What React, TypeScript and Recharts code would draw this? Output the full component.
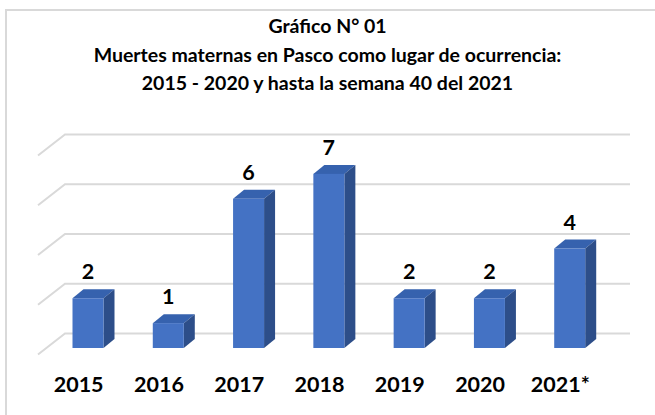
import { BarChart, Bar, XAxis, YAxis, CartesianGrid, LabelList } from "recharts";

const YEARS = ["2015", "2016", "2017", "2018", "2019", "2020", "2021*"];
const DEATHS = [2, 1, 6, 7, 2, 2, 4];
const Y_TICKS = [0, 2, 4, 6, 8];
const TITLE_LINES = [
  "Gráfico N° 01",
  "Muertes maternas en Pasco como lugar de ocurrencia:",
  "2015 - 2020 y hasta la semana 40 del 2021",
];

const data = YEARS.map((year, i) => ({ year, value: DEATHS[i] }));

const FONT = "Lato, 'Open Sans', sans-serif";
// 3D depth of the bars and of the back wall
const DX = 11;
const DY = 9;

function Bar3D(props: any) {
  const { x, y, width, height } = props;
  if (!height || height <= 0) return null;
  const r = x + width;
  const b = y + height;
  return (
    <g>
      <polygon points={`${x},${y} ${x + DX},${y - DY} ${r + DX},${y - DY} ${r},${y}`} fill="#3662ae" />
      <polygon points={`${r},${y} ${r + DX},${y - DY} ${r + DX},${b - DY} ${r},${b}`} fill="#2d4e89" />
      <rect x={x} y={y} width={width} height={height} fill="#4472c4" />
    </g>
  );
}

function WallLine(props: any) {
  const { x1, x2, y1 } = props;
  const by = y1 - 14.5;
  return (
    <polyline
      key={`wall-${y1}`}
      points={`${x1 - 9.5},${by + 21} ${x1 + 17.5},${by} ${x2 + 20.5},${by}`}
      fill="none"
      stroke="#d9d9d9"
      strokeWidth={2}
    />
  );
}

function YearTick({ x, y, payload }: any) {
  // labels sit on the front edge of the floor, a bit left of the bars
  return (
    <text x={x - 9} y={y + 36} textAnchor="middle" fontFamily={FONT} fontWeight={700} fontSize={21.5} fill="#000">
      {payload.value}
    </text>
  );
}

export default function App() {
  return (
    <div style={{ position: "absolute", left: 0, top: 0, width: 655, height: 415, overflow: "hidden", background: "#fff" }}>
      <div style={{ position: "absolute", left: 5, top: 9, width: 700, height: 500, border: "2px solid #d9d9d9", boxSizing: "border-box" }} />
      <div style={{
        position: "absolute", left: 0, top: 12, width: 655, textAlign: "center",
        fontFamily: FONT, fontWeight: 700, fontSize: 19.5, lineHeight: "28.5px", color: "#000",
      }}>
        {TITLE_LINES.map((line) => (
          <div key={line}>{line}</div>
        ))}
      </div>
      <div style={{ position: "absolute", left: 0, top: 0 }}>
        <BarChart width={655} height={415} data={data} barSize={31}
          margin={{ top: 149, right: 45.5, bottom: 37, left: 47.5 }}>
          <CartesianGrid vertical={false} horizontal={WallLine} />
          <XAxis dataKey="year" axisLine={false} tickLine={false} height={30} interval={0} tick={YearTick} />
          <YAxis hide domain={[0, 8]} ticks={Y_TICKS} width={0} />
          <Bar dataKey="value" shape={Bar3D} isAnimationActive={false}>
            <LabelList dataKey="value" position="top" offset={19} fill="#000"
              style={{ fontFamily: FONT, fontWeight: 700, fontSize: 21.5 }} />
          </Bar>
        </BarChart>
      </div>
    </div>
  );
}
